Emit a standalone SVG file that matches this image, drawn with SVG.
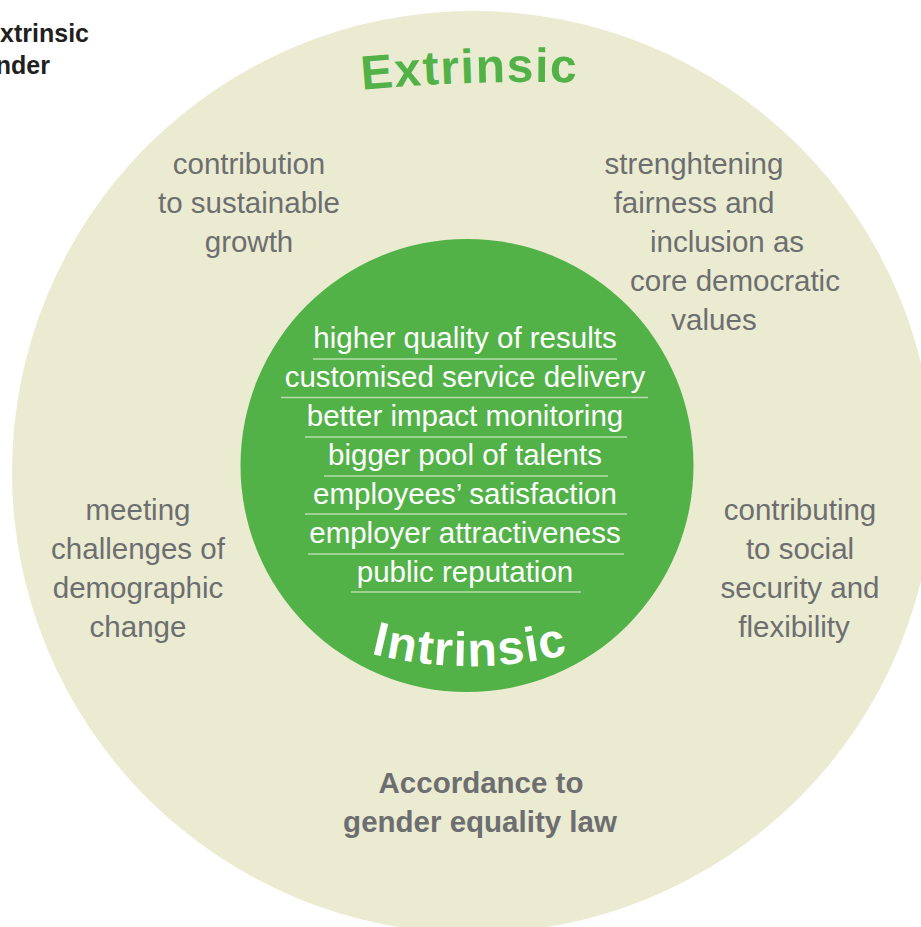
<svg xmlns="http://www.w3.org/2000/svg" width="921" height="927" viewBox="0 0 921 927">
<style>
.g{font-family:"Liberation Sans",Arial,sans-serif;font-size:29.5px;fill:#6d6e70;text-anchor:middle}
.b{font-weight:bold}
.w{font-family:"Liberation Sans",Arial,sans-serif;font-size:29.5px;fill:#ffffff;text-anchor:middle}
.u{stroke:#b7dca9;stroke-width:1.5;fill:none}
.big{font-family:"Liberation Sans",Arial,sans-serif;font-size:48px;font-weight:bold;text-anchor:middle}
.hd{font-family:"Liberation Sans",Arial,sans-serif;font-size:25px;font-weight:bold;fill:#231f20;text-anchor:end}
</style>
<defs>
<path id="arcE" d="M 350 91 Q 470 79 590 83"/>
<path id="arcI" d="M 360 650.7 A 400 400 0 0 0 580 650.7"/>
</defs>
<rect width="921" height="927" fill="#ffffff"/>
<g id="outer">
<circle cx="473" cy="472" r="461" fill="#ebebd2"/>
<text class="big" fill="#52b248" letter-spacing="1.5"><textPath href="#arcE" startOffset="50%">Extrinsic</textPath></text>
</g>
<g id="header">
<text class="hd" x="89" y="42">xtrinsic</text>
<text class="hd" x="50" y="74">nder</text>
</g>
<g id="inner">
<circle cx="467" cy="465.5" r="226.5" fill="#52b248"/>
<text class="big" fill="#ffffff" letter-spacing="1.5"><textPath href="#arcI" startOffset="50%">Intrinsic</textPath></text>
<text class="w" x="465" y="348">higher quality of results</text>
<text class="w" x="465" y="387">customised service delivery</text>
<text class="w" x="465" y="426">better impact monitoring</text>
<text class="w" x="465" y="465">bigger pool of talents</text>
<text class="w" x="465" y="504">employees’ satisfaction</text>
<text class="w" x="465" y="543">employer attractiveness</text>
<text class="w" x="465" y="582">public reputation</text>
</g>
<g id="connectors">
<line class="u" x1="313" y1="359" x2="617" y2="359"/>
<line class="u" x1="281" y1="397.5" x2="648" y2="397.5"/>
<line class="u" x1="305" y1="437" x2="627" y2="437"/>
<line class="u" x1="324" y1="476" x2="608" y2="476"/>
<line class="u" x1="305" y1="514" x2="627" y2="514"/>
<line class="u" x1="308" y1="554" x2="624" y2="554"/>
<line class="u" x1="351" y1="592" x2="581" y2="592"/>
</g>
<g id="growth">
<text class="g" x="249" y="174">contribution</text>
<text class="g" x="249" y="213">to sustainable</text>
<text class="g" x="249" y="252">growth</text>
</g>
<g id="fairness">
<text class="g" x="694" y="174">strenghtening</text>
<text class="g" x="694" y="213">fairness and</text>
<text class="g" x="727" y="252">inclusion as</text>
<text class="g" x="735" y="291">core democratic</text>
<text class="g" x="714" y="330">values</text>
</g>
<g id="demographic">
<text class="g" x="138" y="520">meeting</text>
<text class="g" x="138" y="559">challenges of</text>
<text class="g" x="138" y="598">demographic</text>
<text class="g" x="138" y="637">change</text>
</g>
<g id="social">
<text class="g" x="800" y="520">contributing</text>
<text class="g" x="800" y="559">to social</text>
<text class="g" x="800" y="598">security and</text>
<text class="g" x="794" y="637">flexibility</text>
</g>
<g id="law">
<text class="g b" x="481" y="793">Accordance to</text>
<text class="g b" x="480" y="832">gender equality law</text>
</g>
</svg>
